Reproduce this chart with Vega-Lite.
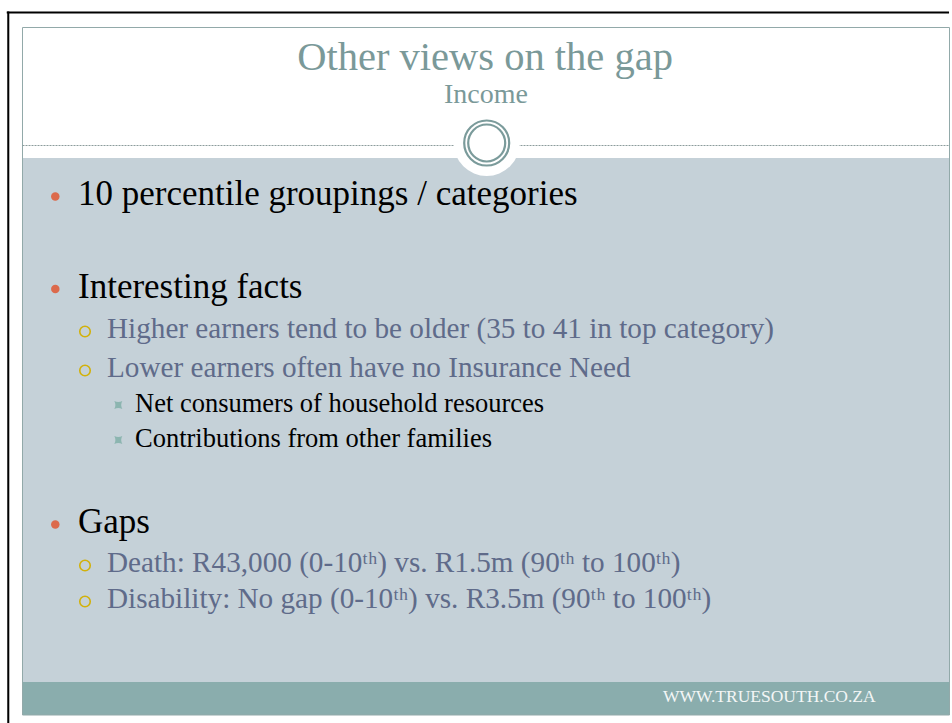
{
  "$schema": "https://vega.github.io/schema/vega-lite/v6.json",
  "width": 952,
  "height": 723,
  "padding": 0,
  "autosize": {"type": "none"},
  "background": "white",
  "config": {"view": {"stroke": null}},
  "datasets": {
    "lines": [
      {"line": 1, "level": 1, "text": "10 percentile groupings / categories"},
      {"line": 2, "level": 1, "text": "Interesting facts"},
      {"line": 3, "level": 2, "text": "Higher earners tend to be older (35 to 41 in top category)"},
      {"line": 4, "level": 2, "text": "Lower earners often have no Insurance Need"},
      {"line": 5, "level": 3, "text": "Net consumers of household resources"},
      {"line": 6, "level": 3, "text": "Contributions from other families"},
      {"line": 7, "level": 1, "text": "Gaps"},
      {"line": 8, "level": 2, "text": "Death: R43,000 (0-10ᵗʰ) vs. R1.5m (90ᵗʰ to 100ᵗʰ)"},
      {"line": 9, "level": 2, "text": "Disability: No gap (0-10ᵗʰ) vs. R3.5m (90ᵗʰ to 100ᵗʰ)"}
    ]
  },
  "layer": [
    {
      "data": {"values": [{"slide": "Other views on the gap"}]},
      "layer": [
        {
          "mark": {"type": "rect", "fill": "#000000"},
          "encoding": {
            "x": {"datum": -0.17, "type": "quantitative", "scale": {"domain": [0, 10], "range": [22.5, 949.5], "nice": false, "zero": false}, "axis": null},
            "x2": {"datum": 9.995},
            "y": {"datum": -0.1745, "type": "quantitative", "scale": {"domain": [0, 7.5], "range": [27.5, 715], "nice": false, "zero": false}, "axis": null},
            "y2": {"datum": -0.1527}
          }
        },
        {
          "mark": {"type": "rect", "fill": "#000000"},
          "encoding": {
            "x": {"datum": -0.1645, "type": "quantitative", "axis": null},
            "x2": {"datum": -0.1425},
            "y": {"datum": -0.1745, "type": "quantitative", "axis": null},
            "y2": {"datum": 7.587}
          }
        },
        {
          "mark": {"type": "rect", "fill": "#ffffff"},
          "encoding": {
            "x": {"datum": 0, "type": "quantitative", "axis": null},
            "x2": {"datum": 10},
            "y": {"datum": 0, "type": "quantitative", "axis": null},
            "y2": {"datum": 7.5}
          }
        },
        {
          "mark": {"type": "rect", "fill": "#c5d1d8"},
          "encoding": {
            "x": {"datum": 0, "type": "quantitative", "axis": null},
            "x2": {"datum": 10},
            "y": {"datum": 1.4236, "type": "quantitative", "axis": null},
            "y2": {"datum": 7.14}
          }
        },
        {
          "mark": {"type": "rect", "fill": "#8aadad"},
          "encoding": {
            "x": {"datum": 0, "type": "quantitative", "axis": null},
            "x2": {"datum": 10},
            "y": {"datum": 7.14, "type": "quantitative", "axis": null},
            "y2": {"datum": 7.5}
          }
        },
        {
          "mark": {"type": "rect", "fill": null, "filled": false, "stroke": "#92a9a9", "strokeWidth": 1},
          "encoding": {
            "x": {"datum": 0, "type": "quantitative", "axis": null},
            "x2": {"datum": 10},
            "y": {"datum": 0, "type": "quantitative", "axis": null},
            "y2": {"datum": 7.5}
          }
        },
        {
          "mark": {"type": "rule", "color": "#8c9c9c", "strokeWidth": 1, "strokeDash": [2, 1]},
          "encoding": {
            "x": {"datum": 0, "type": "quantitative", "axis": null},
            "x2": {"datum": 10},
            "y": {"datum": 1.2873, "type": "quantitative", "axis": null}
          }
        },
        {
          "mark": {"type": "point", "shape": "circle", "filled": true, "fill": "#ffffff", "opacity": 1, "size": 4356, "strokeWidth": 0},
          "encoding": {
            "x": {"datum": 5.0076, "type": "quantitative", "axis": null},
            "y": {"datum": 1.26, "type": "quantitative", "axis": null}
          }
        },
        {
          "mark": {"type": "point", "shape": "circle", "filled": false, "stroke": "#7b9b9b", "opacity": 1, "size": 2025, "strokeWidth": 2.2},
          "encoding": {
            "x": {"datum": 5.0076, "type": "quantitative", "axis": null},
            "y": {"datum": 1.26, "type": "quantitative", "axis": null}
          }
        },
        {
          "mark": {"type": "point", "shape": "circle", "filled": false, "stroke": "#7b9b9b", "opacity": 1, "size": 1369, "strokeWidth": 2.2},
          "encoding": {
            "x": {"datum": 5.0076, "type": "quantitative", "axis": null},
            "y": {"datum": 1.26, "type": "quantitative", "axis": null}
          }
        },
        {
          "mark": {"type": "text", "text": "Other views on the gap", "font": "Liberation Serif", "fontSize": 40.5, "color": "#7a9999", "align": "center", "baseline": "alphabetic"},
          "encoding": {
            "x": {"datum": 4.99, "type": "quantitative", "axis": null},
            "y": {"datum": 0.4636, "type": "quantitative", "axis": null}
          }
        },
        {
          "mark": {"type": "text", "text": "Income", "font": "Liberation Serif", "fontSize": 28, "color": "#7a9999", "align": "center", "baseline": "alphabetic"},
          "encoding": {
            "x": {"datum": 5.0, "type": "quantitative", "axis": null},
            "y": {"datum": 0.8236, "type": "quantitative", "axis": null}
          }
        },
        {
          "mark": {"type": "text", "text": "WWW.TRUESOUTH.CO.ZA", "font": "Liberation Serif", "fontSize": 17.5, "color": "#f3f6f6", "align": "left", "baseline": "alphabetic"},
          "encoding": {
            "x": {"datum": 6.909, "type": "quantitative", "axis": null},
            "y": {"datum": 7.3636, "type": "quantitative", "axis": null}
          }
        }
      ]
    },
    {
      "data": {"name": "lines"},
      "mark": {"type": "point", "filled": true, "opacity": 1, "strokeWidth": 1.6},
      "encoding": {
        "x": {"field": "level", "type": "quantitative", "scale": {"domain": [1, 2, 3], "range": [55.3, 85, 118.3], "nice": false, "zero": false}, "axis": null},
        "y": {"field": "line", "type": "quantitative", "scale": {"domain": [1, 2, 3, 4, 5, 6, 7, 8, 9], "range": [196.5, 289, 331.5, 370.5, 405, 440, 524.5, 565.5, 601.5], "nice": false, "zero": false}, "axis": null},
        "shape": {"field": "level", "type": "ordinal", "scale": {"domain": [1, 2, 3], "range": ["circle", "circle", "M-1,-1Q0,-0.45,1,-1Q0.45,0,1,1Q0,0.45,-1,1Q-0.45,0,-1,-1Z"]}, "legend": null},
        "fill": {"field": "level", "type": "ordinal", "scale": {"domain": [1, 2, 3], "range": ["#dc6a4c", "rgba(0,0,0,0)", "#8cb5b0"]}, "legend": null},
        "stroke": {"field": "level", "type": "ordinal", "scale": {"domain": [1, 2, 3], "range": ["rgba(0,0,0,0)", "#d2b10a", "rgba(0,0,0,0)"]}, "legend": null},
        "size": {"field": "level", "type": "quantitative", "scale": {"domain": [1, 2, 3], "range": [72, 110, 64], "zero": false}, "legend": null}
      }
    },
    {
      "data": {"name": "lines"},
      "mark": {"type": "text", "font": "Liberation Serif", "align": "left", "baseline": "alphabetic"},
      "encoding": {
        "x": {"field": "level", "type": "quantitative", "scale": {"domain": [1, 2, 3], "range": [78, 107, 135], "nice": false, "zero": false}, "axis": null},
        "y": {"field": "line", "type": "quantitative", "scale": {"domain": [1, 2, 3, 4, 5, 6, 7, 8, 9], "range": [205, 298, 338, 377, 412, 447, 533, 572, 608], "nice": false, "zero": false}, "axis": null},
        "text": {"field": "text", "type": "nominal"},
        "size": {"field": "level", "type": "quantitative", "scale": {"domain": [1, 2, 3], "range": [35, 29.2, 26.5], "zero": false}, "legend": null},
        "color": {"field": "level", "type": "ordinal", "scale": {"domain": [1, 2, 3], "range": ["#000000", "#5f6b8a", "#000000"]}, "legend": null}
      }
    }
  ],
  "resolve": {"scale": {"x": "independent", "y": "independent", "size": "independent", "color": "independent", "fill": "independent", "stroke": "independent", "shape": "independent"}}
}
